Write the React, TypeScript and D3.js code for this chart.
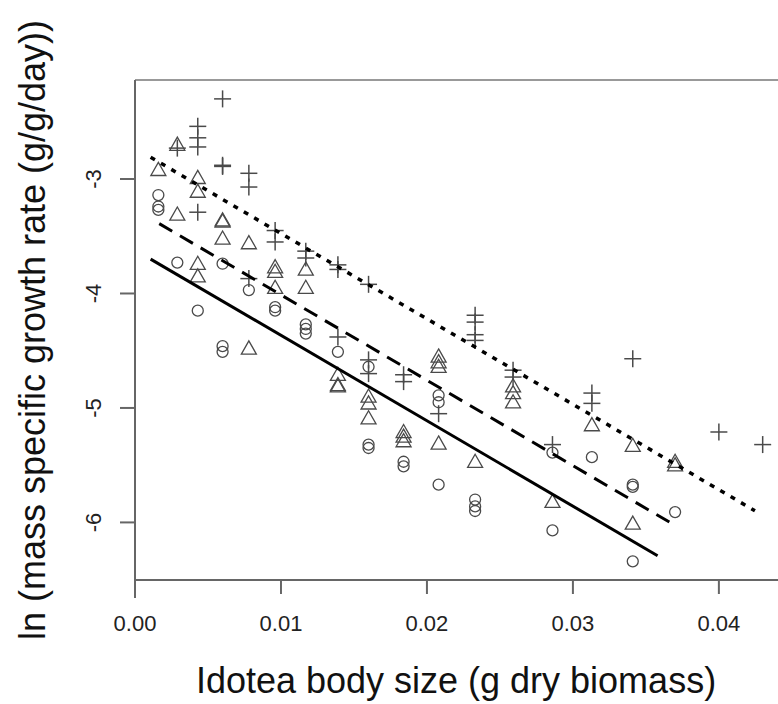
import React from "react";
import * as d3 from "d3";

// ---- data (x: g dry biomass, y: ln growth rate) ----
const circleX = [0.0016, 0.0016, 0.0016, 0.0029, 0.0043, 0.006, 0.006, 0.006, 0.0078, 0.0096, 0.0096, 0.0117, 0.0117, 0.0117, 0.0139, 0.016, 0.016, 0.016, 0.0184, 0.0184, 0.0208, 0.0208, 0.0208, 0.0233, 0.0233, 0.0233, 0.0286, 0.0286, 0.0313, 0.0341, 0.0341, 0.0341, 0.037];
const circleY = [-3.14, -3.24, -3.27, -3.73, -4.15, -3.74, -4.46, -4.51, -3.97, -4.12, -4.15, -4.27, -4.31, -4.35, -4.51, -4.64, -5.32, -5.35, -5.47, -5.51, -4.89, -4.95, -5.67, -5.80, -5.86, -5.90, -5.39, -6.07, -5.43, -5.67, -5.69, -6.34, -5.91];

const triX = [0.0016, 0.0029, 0.0029, 0.0043, 0.0043, 0.0043, 0.0043, 0.006, 0.006, 0.006, 0.0078, 0.0078, 0.0096, 0.0096, 0.0096, 0.0117, 0.0117, 0.0139, 0.0139, 0.0139, 0.016, 0.016, 0.016, 0.0184, 0.0184, 0.0184, 0.0208, 0.0208, 0.0208, 0.0208, 0.0233, 0.0259, 0.0259, 0.0259, 0.0286, 0.0313, 0.0341, 0.0341, 0.037, 0.037];
const triY = [-2.92, -2.70, -3.31, -2.99, -3.11, -3.74, -3.85, -3.36, -3.37, -3.52, -3.56, -4.48, -3.77, -3.81, -3.95, -3.79, -3.95, -4.71, -4.80, -4.81, -4.90, -4.96, -5.09, -5.21, -5.25, -5.29, -4.55, -4.60, -4.64, -5.31, -5.47, -4.81, -4.87, -4.95, -5.82, -5.15, -5.33, -6.01, -5.47, -5.50];

const plusX = [0.0029, 0.0043, 0.0043, 0.0043, 0.0043, 0.006, 0.006, 0.006, 0.0078, 0.0078, 0.0078, 0.0096, 0.0096, 0.0117, 0.0117, 0.0139, 0.0139, 0.0139, 0.016, 0.016, 0.016, 0.0184, 0.0184, 0.0208, 0.0233, 0.0233, 0.0233, 0.0233, 0.0259, 0.0259, 0.0286, 0.0313, 0.0313, 0.0341, 0.04, 0.043];
const plusY = [-2.73, -2.54, -2.64, -2.72, -3.29, -2.30, -2.88, -2.89, -2.95, -3.07, -3.87, -3.45, -3.55, -3.63, -3.69, -3.75, -3.79, -4.38, -3.92, -4.58, -4.70, -4.71, -4.77, -5.05, -4.19, -4.25, -4.36, -4.41, -4.67, -4.73, -5.32, -4.87, -4.96, -4.57, -5.21, -5.32];

// fitted lines: intercept, slope, x-range
const fitNames = ["circle", "triangle", "plus"];
const fitIntercept = [-3.62, -3.266, -2.73];
const fitSlope = [-74.6, -74.6, -74.6];
const fitXStart = [0.00107, 0.00166, 0.00107];
const fitXEnd = [0.0358, 0.0368, 0.04247];
const fitDash = ["none", "15 9", "5 7"];

const xTicks = [0, 0.01, 0.02, 0.03, 0.04];
const yTicks = [-3, -4, -5, -6];

const W = 778;
const H = 704;
const FONT = "'Liberation Sans', Arial, Helvetica, sans-serif";

export default function App() {
  const x = d3.scaleLinear().domain([0, 0.04405]).range([135, 778]);
  const y = d3.scaleLinear().domain([-2.135, -6.503]).range([80, 580]);
  const sym = "#4a4a4a";
  const line = d3.line<[number, number]>().x((d) => x(d[0])).y((d) => y(d[1]));

  const triPath = (cx: number, cy: number) => {
    const s = 7.5;
    return `M${cx},${cy - s}L${cx + s},${cy + s * 0.75}L${cx - s},${cy + s * 0.75}Z`;
  };

  return (
    <svg width={W} height={H} style={{ position: "absolute", left: 0, top: 0, background: "#fff" }} fontFamily={FONT}>
      {/* frame */}
      <line x1={x(0)} x2={W} y1={y.range()[0]} y2={y.range()[0]} stroke="#999" strokeWidth={2} />
      <line x1={x(0)} x2={x(0)} y1={y.range()[0]} y2={598} stroke="#666" strokeWidth={2} />
      <line x1={x(0)} x2={W} y1={y.range()[1]} y2={y.range()[1]} stroke="#666" strokeWidth={2} />
      {/* x ticks */}
      {xTicks.map((t) => (
        <g key={"xt" + t}>
          <line x1={x(t)} x2={x(t)} y1={580} y2={594} stroke="#666" strokeWidth={2} />
          <text x={x(t)} y={631} textAnchor="middle" fontSize={22} fill="#222">
            {d3.format(".2f")(t)}
          </text>
        </g>
      ))}
      {/* y ticks */}
      {yTicks.map((t) => (
        <g key={"yt" + t}>
          <line x1={120} x2={x(0)} y1={y(t)} y2={y(t)} stroke="#666" strokeWidth={2} />
          <text transform={`translate(101,${y(t)}) rotate(-90)`} textAnchor="middle" fontSize={22} fill="#222">
            {String(t)}
          </text>
        </g>
      ))}
      {/* axis titles */}
      <text x={456} y={693} textAnchor="middle" fontSize={36} fill="#111">
        Idotea body size (g dry biomass)
      </text>
      <text transform={`translate(45,330) rotate(-90)`} textAnchor="middle" fontSize={36} fill="#111">
        ln (mass specific growth rate (g/g/day))
      </text>

      {/* points */}
      {circleX.map((v, i) => (
        <circle key={"c" + i} cx={x(v)} cy={y(circleY[i])} r={5.5} fill="none" stroke={sym} strokeWidth={1.3} />
      ))}
      {triX.map((v, i) => (
        <path key={"t" + i} d={triPath(x(v), y(triY[i]))} fill="none" stroke={sym} strokeWidth={1.3} />
      ))}
      {plusX.map((v, i) => (
        <g key={"p" + i} stroke={sym} strokeWidth={1.5}>
          <line x1={x(v) - 8.5} x2={x(v) + 8.5} y1={y(plusY[i])} y2={y(plusY[i])} />
          <line x1={x(v)} x2={x(v)} y1={y(plusY[i]) - 8.5} y2={y(plusY[i]) + 8.5} />
        </g>
      ))}

      {/* fitted lines */}
      {fitNames.map((n, i) => (
        <path
          key={"f" + n}
          d={line([
            [fitXStart[i], fitIntercept[i] + fitSlope[i] * fitXStart[i]],
            [fitXEnd[i], fitIntercept[i] + fitSlope[i] * fitXEnd[i]],
          ]) as string}
          fill="none"
          stroke="#000"
          strokeWidth={i === 2 ? 3.5 : 3}
          strokeDasharray={fitDash[i]}
        />
      ))}
    </svg>
  );
}
